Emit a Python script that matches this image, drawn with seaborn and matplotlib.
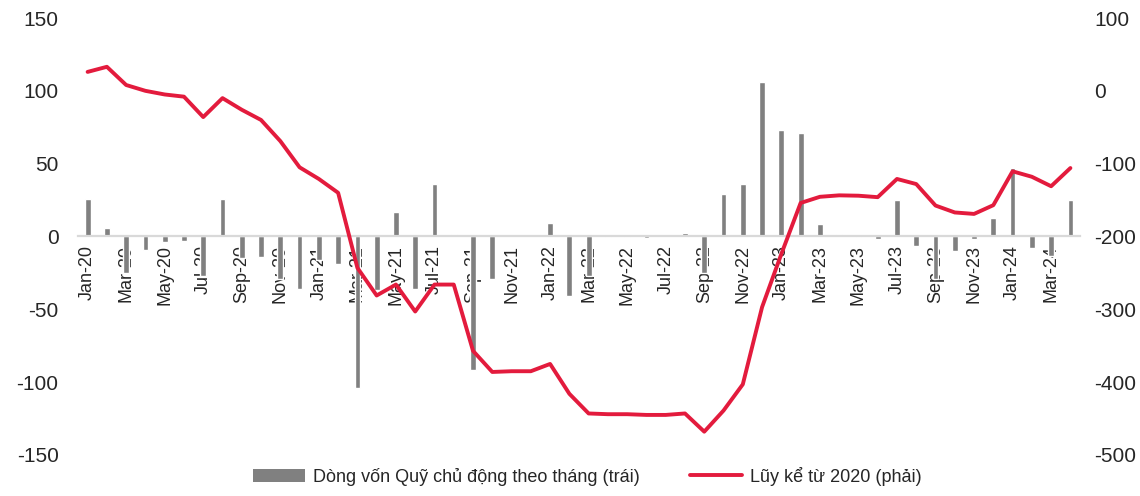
import matplotlib
matplotlib.use("Agg")
import matplotlib.pyplot as plt
import seaborn as sns
import pandas as pd
import numpy as np
from matplotlib.patches import Patch
from matplotlib.lines import Line2D
from matplotlib.ticker import FixedLocator

months = ["Jan-20", "Feb-20", "Mar-20", "Apr-20", "May-20", "Jun-20", "Jul-20", "Aug-20", "Sep-20", "Oct-20", "Nov-20", "Dec-20",
          "Jan-21", "Feb-21", "Mar-21", "Apr-21", "May-21", "Jun-21", "Jul-21", "Aug-21", "Sep-21", "Oct-21", "Nov-21", "Dec-21",
          "Jan-22", "Feb-22", "Mar-22", "Apr-22", "May-22", "Jun-22", "Jul-22", "Aug-22", "Sep-22", "Oct-22", "Nov-22", "Dec-22",
          "Jan-23", "Feb-23", "Mar-23", "Apr-23", "May-23", "Jun-23", "Jul-23", "Aug-23", "Sep-23", "Oct-23", "Nov-23", "Dec-23",
          "Jan-24", "Feb-24", "Mar-24", "Apr-24"]

monthly_flow = [26, 6, -25, -9, -4, -3, -27, 26, -15, -14, -29, -36,
                -16, -19, -104, -37, 17, -36, 36, 1.5, -92, -29, 1, 0.3,
                9, -41, -27, -0.5, -0.3, -1.3, 0.6, 2.3, -25, 29, 36, 106,
                73, 71, 8.5, 1.8, -0.4, -1.5, 25, -6.6, -29, -10, -1.6, 13,
                47, -8, -13.5, 25]

cumulative = [26, 33, 8, 0, -5, -8, -36, -10, -26, -40, -69, -105,
              -121, -140, -243, -281, -266, -303, -266, -266, -357, -386, -385, -385,
              -375, -416, -443, -444, -444, -445, -445, -443, -468, -439, -403, -297,
              -224, -154, -145.5, -143.5, -144, -146, -121, -128, -157.5, -167, -169, -157,
              -110.5, -118, -131, -106]

bar_label = "Dòng vốn Quỹ chủ động theo tháng (trái)"
line_label = "Lũy kể từ 2020 (phải)"

left_ticks = [-150, -100, -50, 0, 50, 100, 150]
right_ticks = [-500, -400, -300, -200, -100, 0, 100]

sns.set_style("white")
plt.rcParams['font.family'] = ['Liberation Sans Narrow', 'Liberation Sans', 'DejaVu Sans']

BAR_COLOR = "#808080"
LINE_COLOR = "#E31B3D"
AXIS_COLOR = "#D9D9D9"

df = pd.DataFrame({"month": months, "flow": monthly_flow, "cum": cumulative})
df["pos"] = np.arange(len(df))

fig = plt.figure(figsize=(11.4, 4.96), dpi=100)
ax = fig.add_axes([0.0684, 0.0827, 0.8790, 0.8810])

sns.barplot(data=df, x="month", y="flow", color=BAR_COLOR, width=0.3,
            saturation=1, ax=ax, order=months, zorder=2)
ax.set_xlim(-0.5, len(months) - 0.5)
ax.set_ylim(-150, 150)
ax.set_yticks(left_ticks)
ax.set_yticklabels([str(t) for t in left_ticks])
ax.set_xlabel("")
ax.set_ylabel("")

for s in ["top", "right", "left"]:
    ax.spines[s].set_visible(False)
ax.spines["bottom"].set_position(("data", 0))
ax.spines["bottom"].set_color(AXIS_COLOR)
ax.spines["bottom"].set_linewidth(1.6)

ax.set_xticks(range(0, len(months), 2))
ax.set_xticklabels([months[i] for i in range(0, len(months), 2)], rotation=90, fontsize=13)
ax.xaxis.set_minor_locator(FixedLocator([i - 0.5 for i in range(0, len(months) + 1, 2)]))
ax.tick_params(axis="x", which="major", length=0, pad=6)
ax.tick_params(axis="x", which="minor", length=6, width=1.4, color=AXIS_COLOR, direction="out")
ax.tick_params(axis="y", length=0, labelsize=15, pad=14)

ax2 = ax.twinx()
sns.lineplot(data=df, x="pos", y="cum", color=LINE_COLOR, linewidth=2.8, ax=ax2, sort=False)
ax2.set_ylim(-500, 100)
ax2.set_yticks(right_ticks)
ax2.set_yticklabels([str(t) for t in right_ticks])
ax2.set_ylabel("")
ax2.set_xlabel("")
ax2.set_xlim(-0.5, len(months) - 0.5)
for s in ["top", "right", "left", "bottom"]:
    ax2.spines[s].set_visible(False)
ax2.tick_params(axis="y", length=0, labelsize=15, pad=10)

handles = [Patch(facecolor=BAR_COLOR, edgecolor="none"),
           Line2D([0], [0], color=LINE_COLOR, linewidth=2.8)]
fig.legend(handles, [bar_label, line_label], loc="lower center",
           bbox_to_anchor=(0.515, -0.012), ncol=2, frameon=False, fontsize=13,
           handlelength=2.9, handleheight=0.8, handletextpad=0.4, columnspacing=2.8)

fig.savefig("out.png", dpi=100)
